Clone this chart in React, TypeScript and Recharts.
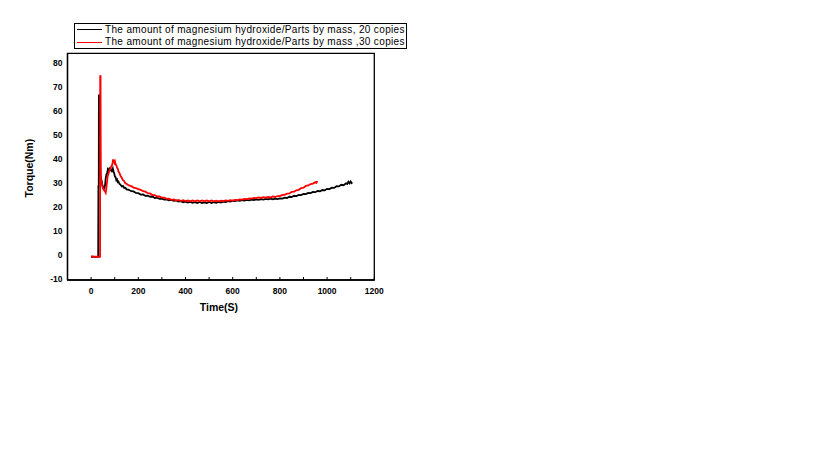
import React from 'react';
import { LineChart, Line, XAxis, YAxis, ReferenceArea } from 'recharts';

const xTicks = [-100, 0, 100, 200, 300, 400, 500, 600, 700, 800, 900, 1000, 1100, 1200];
const yTicks = [-10, 0, 10, 20, 30, 40, 50, 60, 70, 80];
const seriesNames = [
  'The amount of magnesium hydroxide/Parts by mass, 20 copies',
  'The amount of magnesium hydroxide/Parts by mass ,30 copies',
];
const seriesColors = ['#000000', '#ff0000'];

const time20 = [0, 15, 30, 31, 32.5, 33, 35, 35.5, 38, 39, 41, 44, 47, 50, 53, 56, 59, 62, 65, 68, 71, 74, 77, 80, 84, 88, 92, 95, 98, 101, 104, 107, 110, 113, 116, 120, 125, 130, 135, 140, 145, 150, 160, 170, 180, 190, 200, 210, 220, 230, 240, 250, 260, 270, 280, 290, 300, 310, 320, 330, 340, 350, 360, 370, 380, 390, 400, 410, 420, 430, 440, 450, 460, 470, 480, 490, 500, 510, 520, 530, 540, 550, 560, 570, 580, 590, 600, 610, 620, 630, 640, 650, 660, 670, 680, 690, 700, 710, 720, 730, 740, 750, 760, 770, 780, 790, 800, 810, 820, 830, 840, 850, 860, 870, 880, 890, 900, 910, 920, 930, 940, 950, 960, 970, 980, 990, 1000, 1010, 1020, 1030, 1040, 1050, 1060, 1070, 1080, 1085, 1090, 1095, 1100, 1104, 1107];
const torque20 = [-0.3, -0.4, -0.3, 29, 29, 67, 67, 48, 48, 33, 33, 31.5, 30, 28.8, 28.3, 28.2, 29.5, 32.5, 34, 34.5, 36.2, 35.8, 36.4, 35.7, 36.1, 35.4, 36.5, 35.2, 34.5, 33.1, 32.8, 31.6, 31.9, 30.8, 31.0, 30.1, 29.7, 29.0, 29.2, 28.4, 28.5, 27.8, 27.6, 27.0, 26.9, 26.3, 26.2, 25.6, 25.7, 25.1, 25.2, 24.7, 24.8, 24.2, 24.3, 23.8, 23.9, 23.5, 23.6, 23.2, 23.4, 23.0, 23.2, 22.7, 22.9, 22.4, 22.7, 22.3, 22.6, 22.2, 22.5, 22.1, 22.5, 22.1, 22.4, 22.1, 22.5, 22.1, 22.5, 22.2, 22.6, 22.3, 22.7, 22.5, 22.9, 22.7, 23.1, 22.9, 23.2, 23.0, 23.3, 23.1, 23.4, 23.2, 23.5, 23.3, 23.6, 23.4, 23.7, 23.5, 23.8, 23.6, 23.9, 23.6, 23.9, 23.7, 24.0, 23.9, 24.3, 24.2, 24.7, 24.6, 25.1, 25.0, 25.5, 25.4, 25.9, 25.8, 26.3, 26.2, 26.7, 26.6, 27.1, 27.0, 27.5, 27.4, 28.0, 27.9, 28.5, 28.4, 29.1, 29.0, 29.7, 29.5, 30.3, 30.0, 31.0, 30.3, 31.1, 30.4, 30.7];

const time30 = [0, 15, 30, 36, 38, 38.5, 40, 41, 42, 44, 47, 50, 53, 56, 59, 62, 64, 67, 70, 73, 76, 79, 82, 85, 88, 91, 93, 95, 97, 99, 101, 104, 107, 110, 113, 116, 120, 125, 130, 135, 140, 145, 150, 160, 170, 180, 190, 200, 210, 220, 230, 240, 250, 260, 270, 280, 290, 300, 310, 320, 330, 340, 350, 360, 370, 380, 390, 400, 410, 420, 430, 440, 450, 460, 470, 480, 490, 500, 510, 520, 530, 540, 550, 560, 570, 580, 590, 600, 610, 620, 630, 640, 650, 660, 670, 680, 690, 700, 710, 720, 730, 740, 750, 760, 770, 780, 790, 800, 810, 820, 830, 840, 850, 860, 870, 880, 890, 900, 910, 920, 930, 940, 950, 955, 959];
const torque30 = [-0.2, -0.3, -0.3, -0.4, -0.3, 75, 75, 38, 32, 31, 29.5, 28.2, 27.8, 27.2, 27.0, 26.4, 27.8, 30.5, 33.2, 34.1, 35.0, 35.8, 36.4, 37.3, 37.6, 38.8, 40.3, 38.9, 40.1, 39.0, 39.5, 38.2, 37.9, 36.8, 36.4, 35.2, 34.6, 33.3, 32.6, 31.6, 31.2, 30.3, 30.1, 29.4, 29.1, 28.5, 28.3, 27.9, 27.6, 27.0, 26.8, 26.2, 26.1, 25.4, 25.4, 24.8, 24.8, 24.3, 24.3, 23.8, 23.9, 23.4, 23.6, 23.1, 23.4, 22.9, 23.3, 22.9, 23.2, 22.8, 23.2, 22.8, 23.2, 22.8, 23.2, 22.8, 23.2, 22.8, 23.2, 22.8, 23.1, 22.8, 23.1, 22.9, 23.2, 23.0, 23.3, 23.1, 23.4, 23.3, 23.6, 23.5, 23.8, 23.7, 24.0, 23.9, 24.2, 24.1, 24.4, 24.2, 24.5, 24.3, 24.6, 24.4, 24.8, 24.6, 25.0, 25.0, 25.5, 25.5, 26.0, 26.1, 26.7, 26.8, 27.4, 27.6, 28.3, 28.5, 29.2, 29.4, 30.0, 30.2, 30.8, 30.5, 31.2];

const data20 = time20.map((t, i) => ({ t, v: torque20[i] }));
const data30 = time30.map((t, i) => ({ t, v: torque30[i] }));

const FONT = 'Arial, "Liberation Sans", sans-serif';

const XTick = (props: any) => {
  const { x, y, payload } = props;
  const v = payload.value;
  const show = v >= 0 && v % 200 === 0;
  return (
    <g>
      <line x1={x} x2={x} y1={y} y2={y - 3} stroke="#000" strokeWidth={1} />
      {show && (
        <text x={x} y={y + 12} textAnchor="middle" dominantBaseline="middle" fontSize={8.5} fontWeight="bold" fill="#000" fontFamily={FONT}>
          {v}
        </text>
      )}
    </g>
  );
};

const YTick = (props: any) => {
  const { x, y, payload } = props;
  return (
    <text x={x - 5} y={y} textAnchor="end" dominantBaseline="middle" fontSize={8.5} fontWeight="bold" fill="#000" fontFamily={FONT}>
      {payload.value}
    </text>
  );
};

const XTitle = (props: any) => {
  const vb = props.viewBox || {};
  return (
    <text x={vb.x + vb.width / 2 - 2} y={vb.y + 28} textAnchor="middle" dominantBaseline="middle" fontSize={10.5} fontWeight="bold" fill="#000" fontFamily={FONT}>
      Time(S)
    </text>
  );
};

const YTitle = (props: any) => {
  const vb = props.viewBox || {};
  const cx = 22;
  const cy = vb.y + vb.height / 2 + 1.5;
  return (
    <text x={cx} y={cy} transform={`rotate(-90 ${cx} ${cy})`} textAnchor="middle" dominantBaseline="middle" fontSize={10.5} fontWeight="bold" fill="#000" fontFamily={FONT}>
      Torque(Nm)
    </text>
  );
};

const LegendBox = () => (
  <div
    style={{
      position: 'absolute',
      left: 66,
      top: 14.5,
      width: 331,
      height: 24,
      border: '1px solid #000',
      background: '#fff',
      fontFamily: FONT,
      fontSize: 10,
      letterSpacing: 0.35,
      color: '#000',
    }}
  >
    {seriesNames.map((name, i) => (
      <div key={name} style={{ height: 12.5, display: 'flex', alignItems: 'center', whiteSpace: 'nowrap', lineHeight: '12px' }}>
        <span style={{ display: 'inline-block', width: 25, height: 0, borderTop: `1.3px solid ${seriesColors[i]}`, marginLeft: 2, marginRight: 3 }} />
        <span>{name}</span>
      </div>
    ))}
  </div>
);

export default function App() {
  return (
    <div style={{ width: 811, height: 452, position: 'relative' }}>
      <LineChart width={811} height={452} margin={{ top: 45.3, right: 444.7, bottom: 140, left: 0.5 }}>
        <XAxis
          type="number"
          dataKey="t"
          domain={[-100, 1200]}
          ticks={xTicks}
          interval={0}
          allowDataOverflow
          tick={<XTick />}
          tickLine={false}
          tickSize={0}
          tickMargin={0}
          height={40}
          axisLine={{ stroke: '#000', strokeWidth: 1.3 }}
          label={<XTitle />}
        />
        <YAxis
          type="number"
          domain={[-10, 84.5]}
          ticks={yTicks}
          interval={0}
          allowDataOverflow
          tick={<YTick />}
          tickLine={false}
          tickSize={0}
          tickMargin={0}
          width={59}
          axisLine={{ stroke: '#000', strokeWidth: 1.3 }}
          label={<YTitle />}
        />
        <ReferenceArea
          x1={-100}
          x2={1200}
          y1={-10}
          y2={84.5}
          fill="none"
          fillOpacity={0}
          stroke="#000"
          strokeWidth={1.3}
          ifOverflow="visible"
        />
        <Line
          data={data20}
          dataKey="v"
          name={seriesNames[0]}
          stroke={seriesColors[0]}
          strokeWidth={1.8}
          dot={false}
          type="linear"
          isAnimationActive={false}
        />
        <Line
          data={data30}
          dataKey="v"
          name={seriesNames[1]}
          stroke={seriesColors[1]}
          strokeWidth={1.8}
          dot={false}
          type="linear"
          isAnimationActive={false}
        />
      </LineChart>
      <LegendBox />
    </div>
  );
}
